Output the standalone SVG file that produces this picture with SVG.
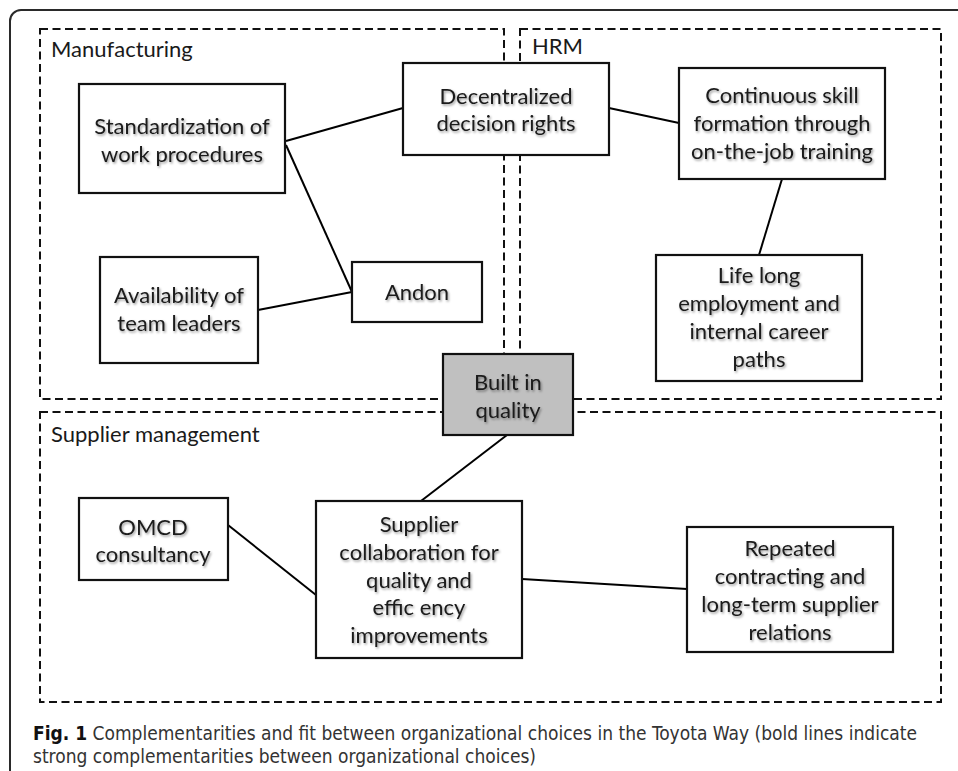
<svg xmlns="http://www.w3.org/2000/svg" width="958" height="771" viewBox="0 0 958 771">
<defs>
<filter id="sh" x="-10%" y="-10%" width="130%" height="140%">
<feDropShadow dx="1.2" dy="1.6" stdDeviation="1.3" flood-color="#000" flood-opacity="0.4"/>
</filter>
<style>
.frame{fill:none;stroke:#2a2a2a;stroke-width:2}
.group{fill:none;stroke:#111;stroke-width:2;stroke-dasharray:8 4.5}
.box{fill:#fff;stroke:#111;stroke-width:2.2}
.grey{fill:#c0c0c0;stroke:#111;stroke-width:2.2}
.t{font-family:Lato,"Open Sans","Liberation Sans",sans-serif;font-size:22px;fill:#1a1a1a;text-anchor:middle;filter:url(#sh)}
.lbl{font-family:Lato,"Open Sans","Liberation Sans",sans-serif;font-size:22px;fill:#1a1a1a}
.cap{font-family:"Liberation Sans Narrow","DejaVu Sans Condensed","Liberation Sans",sans-serif;font-size:19px;fill:#333}
.edge{stroke:#000;stroke-width:2;fill:none}
</style>
</defs>
<rect width="958" height="771" fill="#fff"/>
<path class="frame" d="M10,771 V21 A11,11 0 0 1 21,10 H958"/>

<g id="groups">
<rect class="group" x="40" y="29" width="464" height="370"/>
<rect class="group" x="520" y="29" width="421" height="370"/>
<rect class="group" x="40" y="412" width="901" height="290"/>
<text class="lbl" x="51" y="57">Manufacturing</text>
<text class="lbl" x="532" y="54">HRM</text>
<text class="lbl" x="51" y="442">Supplier management</text>
</g>

<g id="connectors">
<line class="edge" x1="286" y1="141" x2="403" y2="108"/>
<line class="edge" x1="609" y1="108" x2="679" y2="123"/>
<line class="edge" x1="286" y1="145" x2="352" y2="292"/>
<line class="edge" x1="258" y1="310" x2="352" y2="292"/>
<line class="edge" x1="782" y1="179" x2="759" y2="255"/>
<line class="edge" x1="507" y1="435" x2="421" y2="501"/>
<line class="edge" x1="228" y1="525" x2="316" y2="595"/>
<line class="edge" x1="522" y1="579" x2="687" y2="589"/>
</g>

<g id="n-decentralized">
<rect class="box" x="403" y="63" width="206" height="92"/>
<text class="t" x="506" y="104">Decentralized</text>
<text class="t" x="506" y="131">decision rights</text>
</g>
<g id="n-standardization">
<rect class="box" x="79" y="84" width="206" height="109"/>
<text class="t" x="182" y="134">Standardization of</text>
<text class="t" x="182" y="162">work procedures</text>
</g>
<g id="n-continuous">
<rect class="box" x="679" y="68" width="206" height="111"/>
<text class="t" x="782" y="103">Continuous skill</text>
<text class="t" x="782" y="131">formation through</text>
<text class="t" x="782" y="159">on-the-job training</text>
</g>
<g id="n-andon">
<rect class="box" x="352" y="262" width="130" height="60"/>
<text class="t" x="417" y="300">Andon</text>
</g>
<g id="n-availability">
<rect class="box" x="100" y="257" width="158" height="106"/>
<text class="t" x="179" y="303">Availability of</text>
<text class="t" x="179" y="331">team leaders</text>
</g>
<g id="n-lifelong">
<rect class="box" x="656" y="255" width="206" height="126"/>
<text class="t" x="759" y="283">Life long</text>
<text class="t" x="759" y="311">employment and</text>
<text class="t" x="759" y="339">internal career</text>
<text class="t" x="759" y="367">paths</text>
</g>
<g id="n-builtin">
<rect class="grey" x="443" y="354" width="130" height="81"/>
<text class="t" x="508" y="390">Built in</text>
<text class="t" x="508" y="418">quality</text>
</g>
<g id="n-omcd">
<rect class="box" x="79" y="498" width="149" height="82"/>
<text class="t" x="153" y="535">OMCD</text>
<text class="t" x="153" y="562">consultancy</text>
</g>
<g id="n-collab">
<rect class="box" x="316" y="501" width="206" height="157"/>
<text class="t" x="419" y="532">Supplier</text>
<text class="t" x="419" y="560">collaboration for</text>
<text class="t" x="419" y="588">quality and</text>
<text class="t" x="419" y="615">effic ency</text>
<text class="t" x="419" y="643">improvements</text>
</g>
<g id="n-repeated">
<rect class="box" x="687" y="527" width="206" height="125"/>
<text class="t" x="790" y="556">Repeated</text>
<text class="t" x="790" y="584">contracting and</text>
<text class="t" x="790" y="612">long-term supplier</text>
<text class="t" x="790" y="640">relations</text>
</g>

<g id="caption">
<text class="cap" x="33" y="740" textLength="884" lengthAdjust="spacingAndGlyphs"><tspan font-weight="bold" fill="#111">Fig. 1</tspan> Complementarities and fit between organizational choices in the Toyota Way (bold lines indicate</text>
<text class="cap" x="33" y="763" textLength="503" lengthAdjust="spacingAndGlyphs">strong complementarities between organizational choices)</text>
</g>
</svg>
